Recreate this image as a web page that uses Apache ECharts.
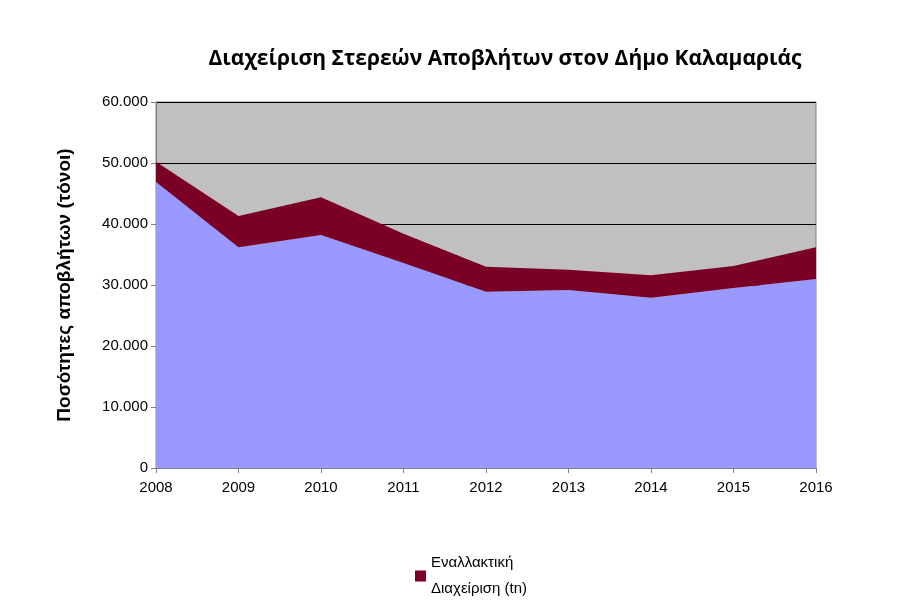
<!DOCTYPE html>
<html><head><meta charset="utf-8">
<script src="https://cdn.jsdelivr.net/npm/echarts@6/dist/echarts.min.js"></script>
<style>html,body{margin:0;padding:0;background:#fff}#c{width:900px;height:615px}</style>
</head><body><div id="c"></div>
<script>
const years = ['2008','2009','2010','2011','2012','2013','2014','2015','2016'];
const landfill = [46900,36200,38200,33600,28900,29200,27900,29500,31000];
const alternative = [3300,5100,6200,4800,4100,3300,3700,3600,5200];
const yTicks = [0,10000,20000,30000,40000,50000,60000];
const chart = echarts.init(document.getElementById('c'));
const fmt = v => v === 0 ? '0' : (v/1000).toFixed(3);
chart.setOption({
  animation:false,
  textStyle:{fontFamily:'Liberation Sans, Arial'},
  title:{text:'Διαχείριση Στερεών Αποβλήτων στον Δήμο Καλαμαριάς',left:500,top:44,textAlign:'center',
    textStyle:{fontSize:21,fontWeight:'bold',color:'#000',fontFamily:'Open Sans, Liberation Sans'}},
  grid:{left:156,right:84,top:102,bottom:147,backgroundColor:'#C0C0C0',show:true,borderColor:'#808080',borderWidth:1},
  legend:{data:['Εναλλακτική\nΔιαχείριση (tn)'],left:410,top:545,itemWidth:11,itemHeight:11,icon:'rect',
    textStyle:{fontSize:15,color:'#000',lineHeight:26}},
  xAxis:{type:'category',data:years,boundaryGap:false,
    axisLine:{lineStyle:{color:'#808080'}},axisTick:{show:true,lineStyle:{color:'#808080'}},
    axisLabel:{fontSize:15,color:'#000',margin:12}},
  yAxis:{type:'value',min:0,max:60000,interval:10000,
    name:'Ποσότητες αποβλήτων (τόνοι)',nameLocation:'middle',nameGap:82,
    nameTextStyle:{fontSize:19,fontWeight:'bold',color:'#000'},
    axisLine:{show:true,lineStyle:{color:'#808080'}},axisTick:{show:true,lineStyle:{color:'#808080'}},
    splitLine:{lineStyle:{color:'#000',width:1}},
    axisLabel:{fontSize:15,color:'#000',formatter:fmt}},
  series:[
    {name:'Ταφή',type:'line',stack:'a',data:landfill,symbol:'none',lineStyle:{width:0},
      areaStyle:{color:'#9999FF',opacity:1},z:3},
    {name:'Εναλλακτική\nΔιαχείριση (tn)',type:'line',stack:'a',data:alternative,symbol:'none',
      lineStyle:{width:0},itemStyle:{color:'#7A0026'},areaStyle:{color:'#7A0026',opacity:1},z:3}
  ]
});
</script></body></html>
